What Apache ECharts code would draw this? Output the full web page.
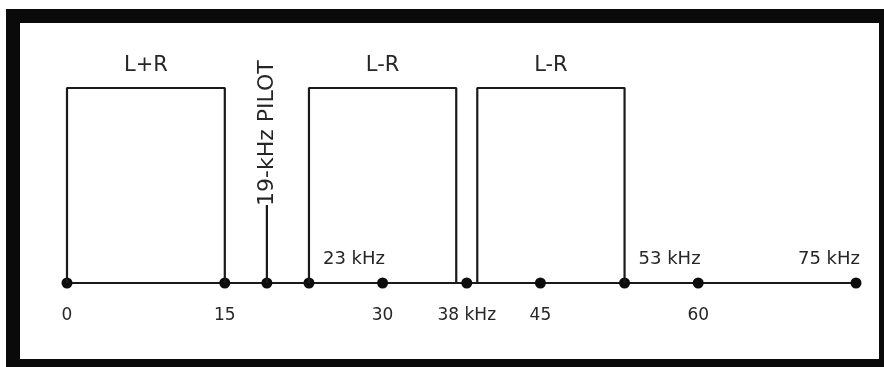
<!DOCTYPE html>
<html>
<head>
<meta charset="utf-8">
<script src="https://cdn.jsdelivr.net/npm/echarts@6/dist/echarts.min.js"></script>
<style>
html,body{margin:0;padding:0;background:#fff;}
#chart{width:884px;height:367px;}
</style>
</head>
<body>
<div id="chart"></div>
<script>
// ---- data (kHz) ----
const bandNames = ['L+R', 'L-R', 'L-R'];
const bandStarts = [0, 23, 39];
const bandEnds = [15, 37, 53];
const pilotFreq = 19;
const pilotLevel = 0.4;
const pilotLabel = '19-kHz PILOT';
const dotFreqs = [0, 15, 19, 23, 30, 38, 45, 53, 60, 75];
const tickValues = [0, 15, 30, 38, 45, 60];
const tickLabels = ['0', '15', '30', '38 kHz', '45', '60'];
const upperLabelFreqs = [23, 53, 75];
const upperLabels = ['23 kHz', '53 kHz', '75 kHz'];
const axisMin = 0, axisMax = 75;

const INK = '#1a1a1a';
const TXT = '#262626';
const FONT = 'DejaVu Sans';

const chart = echarts.init(document.getElementById('chart'));

const series = [];
// baseline
series.push({
  type: 'line', data: [[axisMin, 0], [axisMax, 0]], symbol: 'none', silent: true,
  lineStyle: { color: INK, width: 2.2 }, z: 2
});
// dots
series.push({
  type: 'scatter', data: dotFreqs.map(f => [f, 0]), symbol: 'circle', symbolSize: 11,
  itemStyle: { color: '#0d0d0d', opacity: 1 }, z: 3
});
// band boxes
bandNames.forEach((name, i) => {
  series.push({
    type: 'line', symbol: 'none', silent: true,
    data: [[bandStarts[i], 0], [bandStarts[i], 1], [bandEnds[i], 1], [bandEnds[i], 0]],
    lineStyle: { color: INK, width: 2.2 }, z: 4
  });
});
// band labels
series.push({
  type: 'scatter', symbolSize: 0, silent: true, itemStyle: { opacity: 1 },
  data: bandNames.map((n, i) => ({ value: [(bandStarts[i] + bandEnds[i]) / 2, 1], name: n })),
  label: { show: true, position: 'top', distance: 12, formatter: p => p.name,
    fontFamily: FONT, fontSize: 21, color: TXT }, z: 5
});
// pilot line
series.push({
  type: 'line', symbol: 'none', silent: true,
  data: [[pilotFreq, 0], [pilotFreq, pilotLevel]],
  lineStyle: { color: INK, width: 2.2 }, z: 4
});
// pilot label (vertical)
series.push({
  type: 'scatter', symbolSize: 0, silent: true, itemStyle: { opacity: 1 },
  data: [{ value: [pilotFreq, pilotLevel], name: pilotLabel }],
  label: { show: true, position: 'top', distance: 2, rotate: 90, align: 'left', verticalAlign: 'middle',
    offset: [-3, 0], formatter: p => p.name, fontFamily: FONT, fontSize: 22, color: TXT }, z: 5
});
// upper frequency labels
series.push({
  type: 'scatter', symbolSize: 0, silent: true, itemStyle: { opacity: 1 },
  data: upperLabels.map((t, i) => ({
    value: [upperLabelFreqs[i], 0], name: t,
    label: i === upperLabels.length - 1 ? { align: 'right', offset: [4, 0] } : { align: 'left', offset: [14, 0] }
  })),
  label: { show: true, position: 'top', distance: 15, formatter: p => p.name,
    fontFamily: FONT, fontSize: 18, color: TXT }, z: 5
});

chart.setOption({
  backgroundColor: '#fff',
  animation: false,
  grid: { left: 67, right: 28, top: 88, bottom: 84 },
  xAxis: {
    type: 'value', min: axisMin, max: axisMax,
    axisLine: { show: false }, axisTick: { show: false }, splitLine: { show: false },
    axisLabel: {
      customValues: tickValues, margin: 24,
      formatter: v => tickLabels[tickValues.indexOf(v)],
      fontFamily: FONT, fontSize: 17, color: TXT
    }
  },
  yAxis: { type: 'value', min: 0, max: 1, show: false },
  graphic: [{
    type: 'rect', shape: { x: 13, y: 16, width: 873, height: 350 },
    style: { fill: 'none', stroke: '#0a0a0a', lineWidth: 14 }, silent: true, z: 10
  }],
  series: series
});
</script>
</body>
</html>
